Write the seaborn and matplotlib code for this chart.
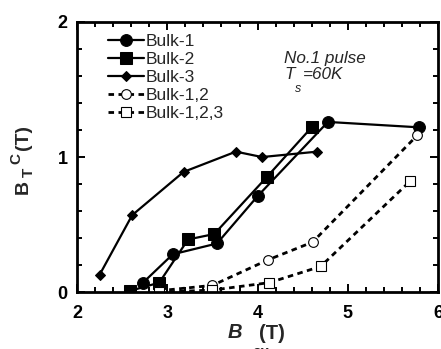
import matplotlib
matplotlib.use("Agg")
import matplotlib.pyplot as plt
from matplotlib.ticker import MultipleLocator
import seaborn as sns

# Critical trapped field vs. applied pulse field for each bulk arrangement
bulk1_x = [2.73, 3.06, 3.55, 4.00, 4.78, 5.79]
bulk1_y = [0.07, 0.28, 0.36, 0.71, 1.26, 1.22]

bulk2_x = [2.59, 2.91, 3.23, 3.52, 4.10, 4.60]
bulk2_y = [0.01, 0.07, 0.39, 0.43, 0.85, 1.22]

bulk3_x = [2.25, 2.61, 3.18, 3.76, 4.05, 4.66]
bulk3_y = [0.13, 0.57, 0.89, 1.04, 1.00, 1.04]

bulk12_x = [2.91, 3.50, 4.12, 4.61, 5.77]
bulk12_y = [0.01, 0.05, 0.24, 0.37, 1.16]

bulk123_x = [2.91, 3.50, 4.13, 4.70, 5.69]
bulk123_y = [0.00, 0.015, 0.07, 0.19, 0.82]

series_labels = ["Bulk-1", "Bulk-2", "Bulk-3", "Bulk-1,2", "Bulk-1,2,3"]
x_ticks = [2, 3, 4, 5, 6]
y_ticks = [0, 1, 2]

sns.set_theme(style="ticks")
plt.rcParams["font.family"] = ["Liberation Sans", "DejaVu Sans"]

W, H = 441, 349
fig = plt.figure(figsize=(W / 100, H / 100), dpi=100)
ax = fig.add_axes([0.175, 0.163, 0.818, 0.774])


def fx(px):
    return px / W


def fy(py):
    return 1 - py / H


solid = dict(color="black", linewidth=1.6, linestyle="-", sort=False,
             markeredgecolor="black", markerfacecolor="black")
dashed = dict(color="black", linewidth=2.0, linestyle=(0, (2.0, 1.6)), sort=False,
              markeredgecolor="black", markerfacecolor="white", markeredgewidth=0.8)

sns.lineplot(x=bulk1_x, y=bulk1_y, marker="o", markersize=8.5, label=series_labels[0], ax=ax, **solid)
sns.lineplot(x=bulk2_x, y=bulk2_y, marker="s", markersize=8, label=series_labels[1], ax=ax, **solid)
sns.lineplot(x=bulk3_x, y=bulk3_y, marker="D", markersize=5.5, label=series_labels[2], ax=ax, **solid)
sns.lineplot(x=bulk12_x, y=bulk12_y, marker="o", markersize=7, label=series_labels[3], ax=ax, **dashed)
sns.lineplot(x=bulk123_x, y=bulk123_y, marker="s", markersize=7, label=series_labels[4], ax=ax, **dashed)

ax.set_xlim(2, 6)
ax.set_ylim(0, 2)
ax.set_xticks(x_ticks)
ax.set_yticks(y_ticks)
ax.xaxis.set_minor_locator(MultipleLocator(0.2))
ax.yaxis.set_minor_locator(MultipleLocator(0.2))
ax.tick_params(which="both", direction="in", top=True, right=True,
               colors="black", width=1.4)
ax.tick_params(which="major", length=6, labelsize=13)
ax.tick_params(axis="x", which="major", pad=9.5)
ax.tick_params(axis="y", which="major", pad=7)
ax.tick_params(which="minor", length=3.5)
for lab in ax.get_xticklabels() + ax.get_yticklabels():
    lab.set_fontweight("bold")
for sp in ax.spines.values():
    sp.set_linewidth(2.0)
    sp.set_color("black")
ax.set_xlabel("")
ax.set_ylabel("")

# x-axis title: B_ex (T), with the subscript dropped low
fig.text(fx(228), fy(338), "B", fontsize=14.5, fontweight="bold", fontstyle="italic",
         ha="left", va="baseline")
fig.text(fx(252), fy(356), "ex", fontsize=11, fontweight="bold", ha="left", va="baseline")
fig.text(fx(259), fy(339), "(T)", fontsize=14.5, fontweight="bold", ha="left", va="baseline")

# y-axis title: B_T^C (T), read bottom to top
rot = dict(rotation=90, rotation_mode="anchor", ha="left", va="baseline", fontweight="bold")
fig.text(fx(28), fy(194), "B", fontsize=14, **rot)
fig.text(fx(33), fy(177), "T", fontsize=11, **rot)
fig.text(fx(20), fy(164), "C", fontsize=11, **rot)
fig.text(fx(28), fy(150), "(T)", fontsize=14, **rot)

# pulse / temperature annotation
it = dict(fontstyle="italic", ha="left", va="baseline")
fig.text(fx(284), fy(63), "No.1 pulse", fontsize=12.3, **it)
fig.text(fx(284), fy(79), "T", fontsize=12.3, **it)
fig.text(fx(295), fy(92), "s", fontsize=9, **it)
fig.text(fx(303), fy(79), "=60K", fontsize=12.3, **it)

leg = ax.legend(loc="upper left", bbox_to_anchor=(0.066, 0.983), frameon=False,
                fontsize=12.5, handlelength=2.07, handletextpad=0.1,
                labelspacing=0.165, borderaxespad=0.0)

fig.savefig("out.png", dpi=100)
